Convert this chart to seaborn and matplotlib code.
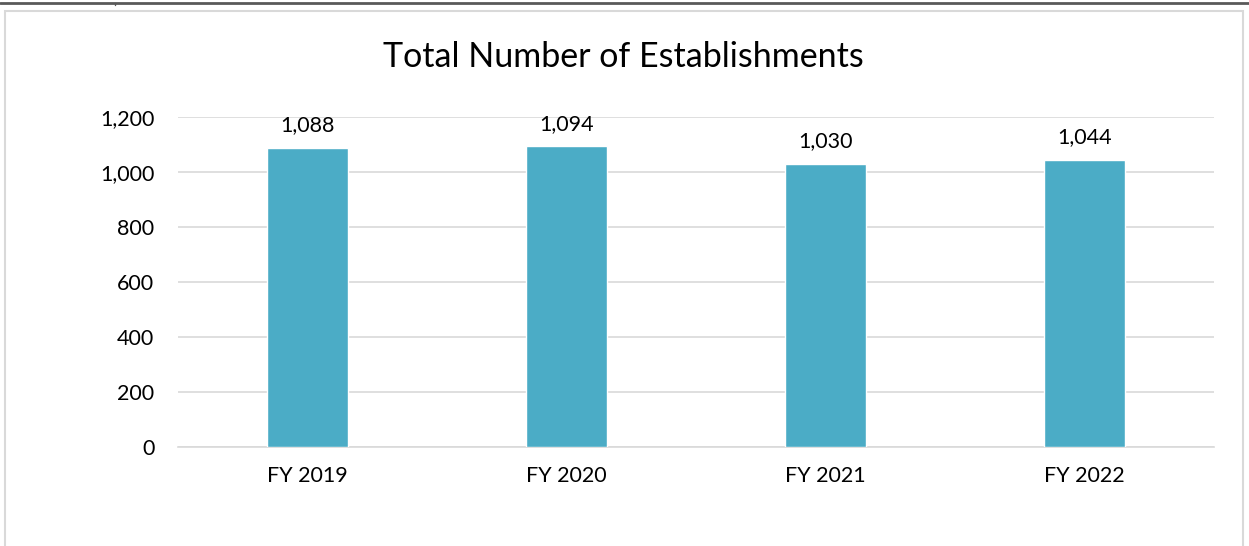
import matplotlib
matplotlib.use("Agg")
import matplotlib.pyplot as plt
import seaborn as sns
import pandas as pd
from matplotlib.lines import Line2D
from matplotlib.patches import Rectangle

# --- DATA ---
years = ["FY 2019", "FY 2020", "FY 2021", "FY 2022"]
establishments = [1088, 1094, 1030, 1044]

df = pd.DataFrame({"year": years, "count": establishments})

sns.set_style("white")
plt.rcParams["font.family"] = ["Lato", "DejaVu Sans"]
plt.rcParams["text.color"] = "black"
plt.rcParams["xtick.color"] = "black"
plt.rcParams["ytick.color"] = "black"

W, H = 1249, 546
fig = plt.figure(figsize=(W / 100, H / 100), dpi=100)
ax = fig.add_axes([178 / W, 1 - 447 / H, (1214 - 178) / W, (447 - 117) / H])

sns.barplot(data=df, x="year", y="count", color="#4BACC6", saturation=1,
            width=0.31, ax=ax, zorder=3)

ax.set_ylim(0, 1200)
ax.set_yticks(range(0, 1201, 200))
ax.set_yticklabels([f"{v:,}" for v in range(0, 1201, 200)], fontsize=15.5)
ax.tick_params(axis="x", labelsize=15.5, length=0, pad=14)
ax.tick_params(axis="y", length=0, pad=17)
ax.grid(axis="y", color="#d9d9d9", linewidth=1.2, zorder=0)
ax.set_xlabel("")
ax.set_ylabel("")
for s in ["top", "right", "left"]:
    ax.spines[s].set_visible(False)
ax.spines["bottom"].set_color("#d9d9d9")
ax.spines["bottom"].set_linewidth(1.2)

for i, v in enumerate(establishments):
    ax.annotate(f"{v:,}", xy=(i, v), xytext=(0, 9), textcoords="offset points",
                ha="center", va="bottom", fontsize=15.5)

fig.text(0.5 * (383 + 864) / W, 1 - 57 / H, "Total Number of Establishments",
         ha="center", va="center", fontsize=24.5)

# chart frame and page line
fig.patches.append(Rectangle((5 / W, -0.05), (1243 - 5) / W, 1.05 - 11 / H,
                             transform=fig.transFigure, fill=False,
                             edgecolor="#d9d9d9", linewidth=1.5))
fig.lines.append(Line2D([0, 1], [1 - 2.5 / H, 1 - 2.5 / H], transform=fig.transFigure,
                        color="#595959", linewidth=2))
fig.lines.append(Line2D([115 / W, 115 / W], [1 - 2.5 / H, 1 - 5 / H], transform=fig.transFigure,
                        color="#595959", linewidth=1))

fig.savefig("out.png", dpi=100)
